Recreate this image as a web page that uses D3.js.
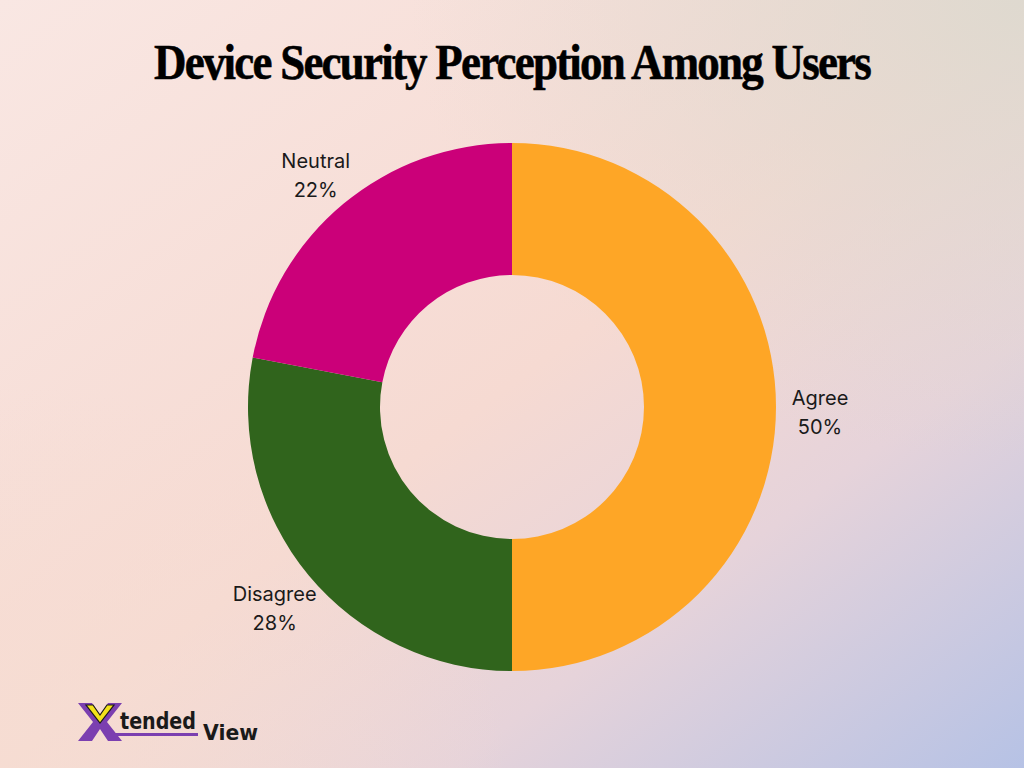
<!DOCTYPE html>
<html>
<head>
<meta charset="utf-8">
<script src="https://cdn.jsdelivr.net/npm/d3@7"></script>
<style>
  html, body { margin: 0; padding: 0; }
  body { width: 1024px; height: 768px; overflow: hidden; }
</style>
</head>
<body>
<svg id="chart" width="1024" height="768"></svg>
<script>
const categories = ["Agree", "Disagree", "Neutral"];
const values = [50, 28, 22];
const colors = ["#fea626", "#30641c", "#cb0079"];
const titleText = "Device Security Perception Among Users";

const W = 1024, H = 768;
const svg = d3.select("#chart");
const defs = svg.append("defs");

// background
const lg = defs.append("linearGradient").attr("id", "bg")
  .attr("x1", "0").attr("y1", "0").attr("x2", "1").attr("y2", "1");
[["0", "#f9e7e3"], ["0.5", "#f6dad2"], ["0.72", "#e6d3da"], ["1", "#b6c2e5"]]
  .forEach(([o, c]) => lg.append("stop").attr("offset", o).attr("stop-color", c));
svg.append("rect").attr("width", W).attr("height", H).attr("fill", "url(#bg)");

const rg = defs.append("radialGradient").attr("id", "tr")
  .attr("cx", "1").attr("cy", "0").attr("r", "0.6");
rg.append("stop").attr("offset", "0").attr("stop-color", "#dcd9cf").attr("stop-opacity", 0.9);
rg.append("stop").attr("offset", "1").attr("stop-color", "#dcd9cf").attr("stop-opacity", 0);
svg.append("rect").attr("width", W).attr("height", H).attr("fill", "url(#tr)");

const rg2 = defs.append("radialGradient").attr("id", "bl")
  .attr("cx", "0").attr("cy", "1").attr("r", "0.5");
rg2.append("stop").attr("offset", "0").attr("stop-color", "#f6ddd2").attr("stop-opacity", 0.8);
rg2.append("stop").attr("offset", "1").attr("stop-color", "#f6ddd2").attr("stop-opacity", 0);
svg.append("rect").attr("width", W).attr("height", H).attr("fill", "url(#bl)");

// title
svg.append("text")
  .attr("x", 512).attr("y", 79)
  .attr("text-anchor", "middle")
  .attr("font-family", "'Liberation Serif', 'DejaVu Serif', serif")
  .attr("font-weight", "bold")
  .attr("font-size", 51)
  .attr("letter-spacing", "-2")
  .attr("textLength", 716)
  .attr("lengthAdjust", "spacingAndGlyphs")
  .attr("fill", "#000")
  .attr("stroke", "#000")
  .attr("stroke-width", 0.6)
  .text(titleText);

// donut
const cx = 512, cy = 407, rOuter = 264, rInner = 132, rLabel = 308;
const data = categories.map((c, i) => ({ cat: c, value: values[i], color: colors[i] }));
const pie = d3.pie().sort(null).value(d => d.value);
const arc = d3.arc().innerRadius(rInner).outerRadius(rOuter);
const labelArc = d3.arc().innerRadius(rLabel).outerRadius(rLabel);
const total = d3.sum(values);

const g = svg.append("g").attr("transform", `translate(${cx},${cy})`);
const arcs = pie(data);
g.selectAll("path.slice").data(arcs).join("path")
  .attr("class", "slice")
  .attr("d", arc)
  .attr("fill", d => d.data.color);

const lbl = g.selectAll("text.lbl").data(arcs).join("text")
  .attr("class", "lbl")
  .attr("transform", d => `translate(${labelArc.centroid(d)})`)
  .attr("text-anchor", "middle")
  .attr("font-family", "Inter, Roboto, 'Noto Sans', sans-serif")
  .attr("font-size", 20)
  .attr("fill", "#1a1a1a");
lbl.append("tspan").attr("x", 0).attr("dy", "-0.1em").text(d => d.data.cat);
lbl.append("tspan").attr("x", 0).attr("dy", "1.45em")
  .text(d => Math.round(d.data.value / total * 100) + "%");

// logo
const logo = svg.append("g").attr("transform", "translate(78,703)");
// purple X
logo.append("path")
  .attr("d", "M0,0 L14,0 L22,13 L30,0 L44,0 L29,19 L44,38 L30,38 L22,26 L14,38 L0,38 L15,19 Z")
  .attr("fill", "#7b3fb0");
// yellow V
logo.append("path")
  .attr("d", "M8,2 L15,2 L22,12 L29,2 L36,2 L22,20 Z")
  .attr("fill", "#f2e21a")
  .attr("stroke", "#1a1a1a").attr("stroke-width", 1.2);
logo.append("text")
  .attr("x", 42).attr("y", 26)
  .attr("font-family", "'DejaVu Sans', Roboto, sans-serif")
  .attr("font-weight", "bold")
  .attr("font-size", 23)
  .attr("textLength", 76)
  .attr("lengthAdjust", "spacingAndGlyphs")
  .attr("fill", "#1a1a1a")
  .text("tended");
logo.append("rect")
  .attr("x", 30).attr("y", 30).attr("width", 90).attr("height", 3)
  .attr("fill", "#7b3fb0");
logo.append("text")
  .attr("x", 125).attr("y", 37)
  .attr("font-family", "'DejaVu Sans', Roboto, sans-serif")
  .attr("font-weight", "bold")
  .attr("font-size", 21)
  .attr("textLength", 55)
  .attr("lengthAdjust", "spacingAndGlyphs")
  .attr("fill", "#1a1a1a")
  .text("View");
</script>
</body>
</html>
